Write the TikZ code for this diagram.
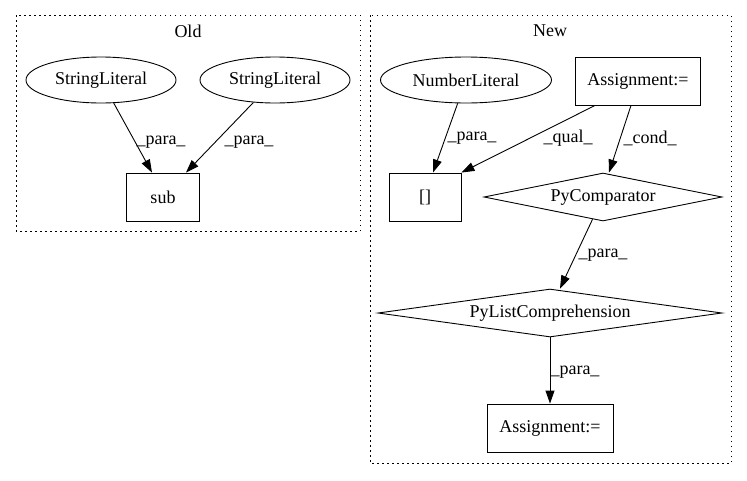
\documentclass[tikz,border=0pt]{standalone}
\usepackage{fontspec}
\setmainfont{Liberation Serif}
\usetikzlibrary{shapes.geometric,arrows.meta}

\tikzset{
  lit/.style={ellipse,draw,inner sep=0pt,minimum height=46pt},
  box/.style={rectangle,draw,inner sep=0pt,minimum height=48pt},
  cmpshape/.style={diamond,draw,inner sep=0pt,aspect=6,minimum height=48pt},
  cluster/.style={draw,dash pattern=on 1.5pt off 3.5pt},
  lbl/.style={inner sep=0pt},
}

\begin{document}
\begin{tikzpicture}[x=1pt,y=-1pt,line width=0.9pt,>={Triangle[length=13pt,width=9pt]},font=\fontsize{18pt}{21pt}\selectfont]
            \useasboundingbox (0,0) rectangle (747,480);
            % clusters
            \draw[cluster] (16,15) rectangle (360,231);
            \node[lbl] (old) at (188,31) {Old};
            \draw[cluster] (370,15) rectangle (731,463);
            \node[lbl] (new) at (550,31) {New};
            % old
            \node[lit,minimum width=150pt] (sl1) at (101,80) {StringLiteral};
            \node[lit,minimum width=150pt] (sl2) at (275,80) {StringLiteral};
            \node[box,minimum width=73pt] (sub) at (163,197) {sub};
            \draw[->] (sl1) -- ([xshift=-11pt]sub.north);
            \draw[->] (sl2) -- ([xshift=23pt]sub.north);
            \node[lbl] (p1) at (161,142) {\_para\_};
            \node[lbl] (p2) at (249,142) {\_para\_};
            % new
            \node[lit,minimum width=171pt] (num) at (466,80) {NumberLiteral};
            \node[box,minimum width=125pt] (asg1) at (638,81) {Assignment:=};
            \node[box,minimum width=72pt] (idx) at (425,197) {[]};
            \node[cmpshape,minimum width=238pt] (cmp) at (603,197) {PyComparator};
            \node[cmpshape,aspect=7,minimum width=344pt] (lc) at (550,313) {PyListComprehension};
            \node[box,minimum width=126pt] (asg2) at (550,428) {Assignment:=};
            \draw[->] (num) -- ([xshift=8pt]idx.north);
            \draw[->] ([xshift=-43pt]asg1.south) -- (idx.north east);
            \draw[->] ([xshift=-7pt]asg1.south) -- ([xshift=6pt]cmp.north);
            \draw[->] (cmp) -- ([xshift=10pt]lc.north);
            \draw[->] (lc) -- (asg2);
            \node[lbl] (p3) at (472,138) {\_para\_};
            \node[lbl] (q1) at (568,138) {\_qual\_};
            \node[lbl] (c1) at (650,138) {\_cond\_};
            \node[lbl] (p4) at (603,255) {\_para\_};
            \node[lbl] (p5) at (575,372) {\_para\_};
        \end{tikzpicture}
\end{document}
